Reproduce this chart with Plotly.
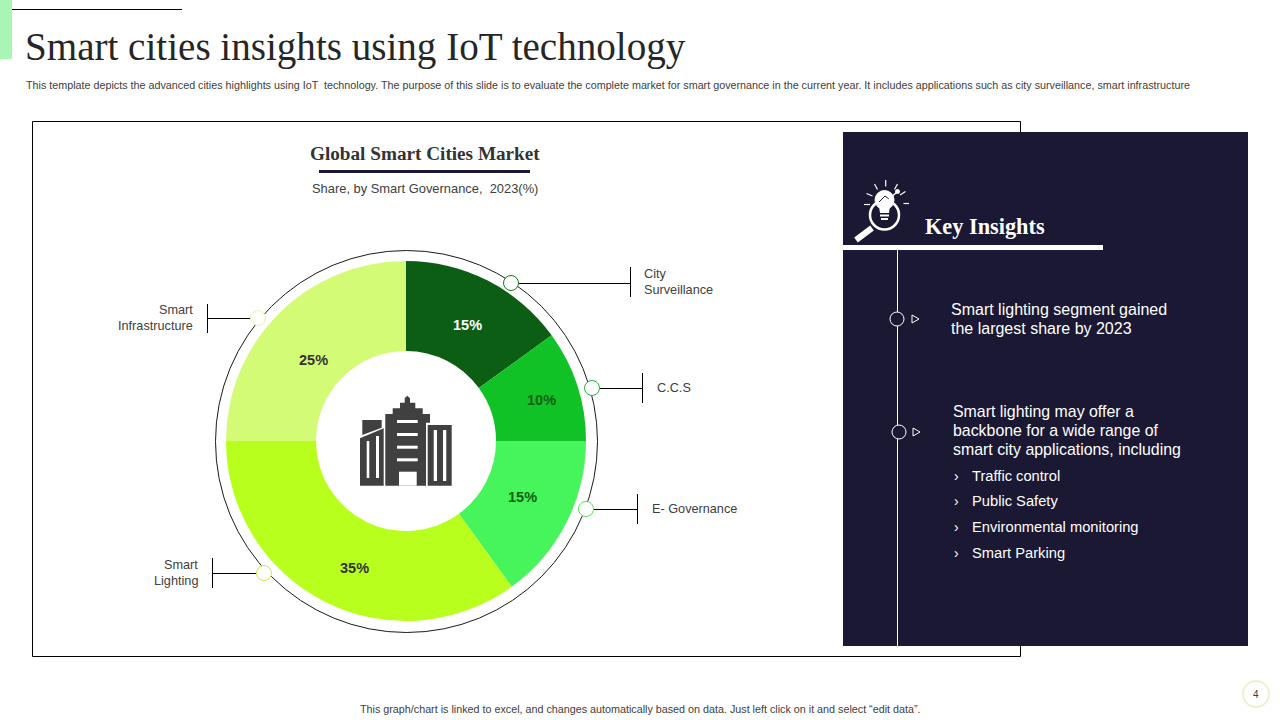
# Smart cities slide, drawn on a 1280x720 pixel canvas
import plotly.graph_objects as go

W, H = 1280, 720
SANS = "Liberation Sans"
SERIF = "Liberation Serif"
NAVY = "#1a1833"
TEXT = "#404040"

# pie data
segments = ["City Surveillance", "C.C.S", "E- Governance", "Smart Lighting", "Smart Infrastructure"]
shares = [15, 10, 15, 35, 25]
colors = ["#0b5e14", "#10c226", "#46f45c", "#b8ff1e", "#d4fb76"]
text_colors = ["#ffffff", "#0b5e14", "#0b5e14", "#333333", "#333333"]
label_x = [467, 541, 522, 354, 313]
label_y = [325, 400, 497, 568, 360]

title = "Smart cities insights using IoT technology"
subtitle = ("This template depicts the advanced cities highlights using IoT  technology. The purpose of this slide "
            "is to evaluate the complete market for smart governance in the current year. It includes applications "
            "such as city surveillance, smart infrastructure")
footer = "This graph/chart is linked to excel, and changes automatically based on data. Just left click on it and select \u201cedit data\u201d."
bullets = ["Traffic control", "Public Safety", "Environmental monitoring", "Smart Parking"]
bullet_y = [476, 501, 527, 553]

shapes = []
annotations = []


def rect(x0, y0, x1, y1, fill=None, line=None, width=1):
    shapes.append(dict(type="rect", x0=x0, y0=y0, x1=x1, y1=y1, fillcolor=fill,
                       line=dict(color=line, width=width if line else 0)))


def line(x0, y0, x1, y1, color="#000000", width=1):
    shapes.append(dict(type="line", x0=x0, y0=y0, x1=x1, y1=y1, line=dict(color=color, width=width)))


def circle(cx, cy, r, fill=None, color="#000000", width=1):
    shapes.append(dict(type="circle", x0=cx - r, y0=cy - r, x1=cx + r, y1=cy + r, fillcolor=fill,
                       line=dict(color=color, width=width)))


def poly(pts, fill=None, color=None, width=0):
    d = "M" + " L".join(f"{x:.1f},{y:.1f}" for x, y in pts) + " Z"
    shapes.append(dict(type="path", path=d, fillcolor=fill, line=dict(color=color, width=width)))


def text(x, y, s, size=12, color=TEXT, family=SANS, anchor="left"):
    # annotations carry a small inner padding, take it back out
    if anchor == "left":
        x -= 2
    elif anchor == "right":
        x += 2
    annotations.append(dict(x=x, y=y, text=s, showarrow=False, xanchor=anchor, yanchor="middle",
                            font=dict(size=size, color=color, family=family)))


# slide header
rect(0, 0, 12, 59, fill="#a9f5b5")
line(12, 9.5, 182, 9.5, width=1)
text(25, 47, title, size=39.1, color="#262626", family=SERIF)
text(26, 85, subtitle, size=10.75, color="#404040")

# chart frame and dark panel
rect(32.5, 121.5, 1020.5, 656.5, line="#000000", width=1)
rect(843, 132, 1248, 646, fill=NAVY)

text(425, 153, "<b>Global Smart Cities Market</b>", size=19.2, color="#333333", family=SERIF, anchor="center")
line(319, 171.5, 530, 171.5, color=NAVY, width=3)
text(425, 188, "Share, by Smart Governance,  2023(%)", size=12.9, anchor="center")

# ring around the pie
circle(406.5, 441.5, 191, color="#1a1a1a", width=1)

# leader lines, tick, marker dot
line(518, 283.5, 630, 283.5)
line(630.5, 267, 630.5, 297)
circle(511, 283, 7.5, fill="#ffffff", color="#0b7a1c")
line(599, 388.5, 642, 388.5)
line(642.5, 373, 642.5, 403)
circle(592, 388, 7.5, fill="#ffffff", color="#22b53a")
line(593, 509.5, 637, 509.5)
line(637.5, 494, 637.5, 524)
circle(586, 509, 7.5, fill="#ffffff", color="#55e066")
line(213, 573.5, 257, 573.5)
line(212.5, 558, 212.5, 588)
circle(264, 573, 7.5, fill="#ffffff", color="#c4ee4e")
line(208, 318.5, 251, 318.5)
line(207.5, 304, 207.5, 333)
circle(258, 318, 7.5, fill="#ffffff", color="#e2f7a8")

text(644, 274, "City", size=12.7)
text(644, 290, "Surveillance", size=12.7)
text(657, 388, "C.C.S", size=12.7)
text(652, 509, "E- Governance", size=12.7)
text(193, 310, "Smart", size=12.7, anchor="right")
text(193, 326, "Infrastructure", size=12.7, anchor="right")
text(198, 565, "Smart", size=12.7, anchor="right")
text(198, 581, "Lighting", size=12.7, anchor="right")

# building icon in the hole
DARK = "#404040"
poly([(362.3, 420), (381.7, 420), (381.7, 427.7), (362.3, 435)], fill=DARK)
poly([(360, 438.3), (383.7, 428.3), (383.7, 485.7), (360, 485.7)], fill=DARK)
poly([(385.3, 485.7), (385.3, 414), (392.7, 414), (392.7, 408.3), (400, 408.3), (400, 402.7), (404.7, 402.7),
      (404.7, 398.3), (407.3, 395.7), (410, 398.3), (410, 402.7), (415.3, 402.7), (415.3, 408.3), (422.7, 408.3),
      (422.7, 414), (430, 414), (430, 422.7), (426, 422.7), (426, 485.7)], fill=DARK)
rect(427.7, 425, 451.7, 485.7, fill=DARK)
rect(366.7, 441, 369.3, 478, fill="#ffffff")
rect(376, 436, 379, 478, fill="#ffffff")
rect(399, 471.7, 416.7, 485.7, fill="#ffffff")
for wy in [420, 433, 445.7, 458.3]:
    rect(397, wy, 417.7, wy + 3, fill="#ffffff")
rect(433.7, 430, 437, 481, fill="#ffffff")
rect(443, 430, 446.3, 481, fill="#ffffff")

# key insights icon
WHITE = "#ffffff"
circle(884.5, 215, 14.5, color=WHITE, width=2.5)
circle(884.5, 200, 9.5, fill=WHITE, color=WHITE)
poly([(879, 206), (890, 206), (889, 213), (880, 213)], fill=WHITE)
rect(880, 214.5, 889, 216.5, fill=WHITE)
rect(881, 218, 888, 220, fill=WHITE)
line(879, 202, 885, 196, color=NAVY, width=1)
line(885, 196, 889, 199, color=NAVY, width=1)
line(889, 199, 897, 192, color=WHITE, width=1.5)
circle(897.5, 191.5, 2, fill=WHITE, color=WHITE)
line(856, 240, 872, 228, color=WHITE, width=6)
for ray in [(885.7, 180, 885.7, 186.5), (874.5, 184, 877.5, 189.5), (897.5, 184, 894.5, 189.5),
            (866.5, 193.5, 872.5, 196), (905.5, 191.5, 900, 195), (864, 204.5, 870, 204.5), (903.5, 203.5, 909, 203.5)]:
    line(*ray, color=WHITE, width=1.2)

# panel contents
text(925, 226, "<b>Key Insights</b>", size=22.3, color=WHITE, family=SERIF)
rect(843, 245, 1103, 250, fill=WHITE)
line(897.5, 250, 897.5, 646, color=WHITE, width=1)
circle(897, 319, 7, fill=NAVY, color=WHITE)
poly([(912, 315), (919, 319), (912, 323)], fill=NAVY, color=WHITE, width=1)
circle(899, 432, 7, fill=NAVY, color=WHITE)
poly([(913, 428), (920, 432), (913, 436)], fill=NAVY, color=WHITE, width=1)

text(951, 309, "Smart lighting segment gained", size=16, color=WHITE)
text(951, 328, "the largest share by 2023", size=16, color=WHITE)
text(953, 411, "Smart lighting may offer a", size=15.9, color=WHITE)
text(953, 430, "backbone for a wide range of", size=15.9, color=WHITE)
text(953, 449, "smart city applications, including", size=15.9, color=WHITE)
for label, by in zip(bullets, bullet_y):
    text(954, by, "\u203a", size=14, color=WHITE)
    text(972, by, label, size=14.7, color=WHITE)

# footer and page number
text(640, 709, footer, size=10.75, anchor="center")
circle(1256, 694, 13, fill="#ffffff", color="#e6efc0", width=1.5)
text(1256, 694, "4", size=10, anchor="center")

# share labels
for share, lx, ly, tc in zip(shares, label_x, label_y, text_colors):
    text(lx, ly, f"<b>{share}%</b>", size=14.5, color=tc, anchor="center")

fig = go.Figure()
# empty trace so the pixel axes exist for the shapes
fig.add_trace(go.Scatter(x=[None], y=[None], showlegend=False, hoverinfo="skip"))
fig.add_trace(go.Pie(
    labels=segments, values=shares, sort=False, direction="clockwise", rotation=0, hole=0.5,
    marker=dict(colors=colors, line=dict(width=0)),
    textinfo="none",
    domain=dict(x=[226 / W, 586 / W], y=[1 - 621 / H, 1 - 261 / H]),
    showlegend=False,
))
fig.update_layout(
    width=W, height=H, margin=dict(l=0, r=0, t=0, b=0),
    paper_bgcolor="#ffffff", plot_bgcolor="#ffffff",
    xaxis=dict(range=[0, W], visible=False, fixedrange=True),
    yaxis=dict(range=[H, 0], visible=False, fixedrange=True),
    shapes=shapes, annotations=annotations,
)
# body margin would push the canvas 8px in
fig.write_html("out.html", config={"displayModeBar": False}, post_script="document.body.style.margin='0';")
